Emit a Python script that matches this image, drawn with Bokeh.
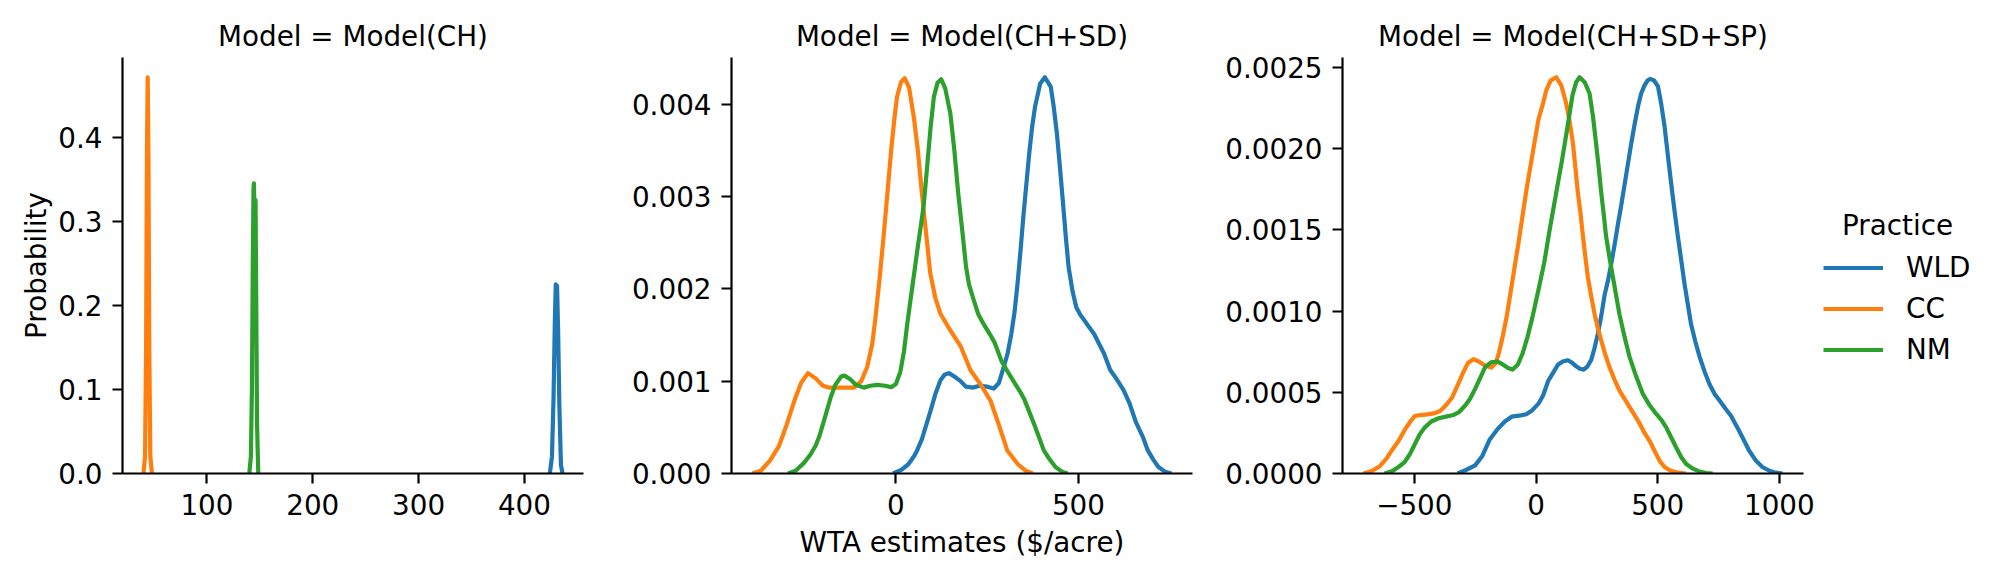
import numpy as np
from bokeh.embed import file_html
from bokeh.resources import INLINE
from bokeh.layouts import row
from bokeh.models import ColumnDataSource, FixedTicker, Legend, LegendItem, Label, Range1d
from bokeh.plotting import figure

practices = ["WLD", "CC", "NM"]
colors = ["#1f77b4", "#ff7f0e", "#2ca02c"]
models = ["Model(CH)", "Model(CH+SD)", "Model(CH+SD+SP)"]

# Model(CH): very narrow density spikes
ch_wld_x = [424, 426, 427.5, 428.7, 429.6, 430.2, 430.8, 431.8, 433, 434.5, 436]
ch_wld_y = [0, 0.02, 0.09, 0.18, 0.225, 0.215, 0.223, 0.17, 0.08, 0.01, 0]
ch_cc_x = [40, 41.5, 42.5, 43.3, 44, 44.7, 45.5, 46.5, 48]
ch_cc_y = [0, 0.02, 0.15, 0.38, 0.471, 0.38, 0.15, 0.02, 0]
ch_nm_x = [140, 141.5, 142.5, 143.3, 144.0, 144.4, 144.9, 145.4, 145.9, 146.5, 147.3, 148.5]
ch_nm_y = [0, 0.02, 0.10, 0.25, 0.34, 0.345, 0.31, 0.31, 0.325, 0.22, 0.06, 0]

# Model(CH+SD): densities read in units of 1e-3
sd_wld_x = [-8, 15, 34, 50, 58, 71, 85, 95, 108, 122, 133, 145, 160, 177, 192, 210, 230, 250,
            268, 282, 295, 306, 316, 325, 333, 341, 349, 357, 365, 373, 381, 395, 408, 424, 432,
            441, 449, 457, 465, 473, 484, 494, 505, 516, 530, 543, 557, 570, 587, 605, 624, 640,
            657, 676, 690, 705, 719, 737, 755]
sd_wld_y = [0.0, 0.04, 0.10, 0.19, 0.25, 0.37, 0.55, 0.68, 0.86, 1.01, 1.07, 1.087, 1.05, 1.00,
            0.94, 0.93, 0.95, 0.94, 0.92, 0.98, 1.15, 1.30, 1.51, 1.75, 2.05, 2.40, 2.78, 3.12,
            3.46, 3.75, 3.97, 4.22, 4.29, 4.19, 3.98, 3.68, 3.33, 2.96, 2.58, 2.235, 1.97, 1.80,
            1.72, 1.66, 1.58, 1.51, 1.40, 1.30, 1.12, 1.02, 0.90, 0.76, 0.56, 0.40, 0.25, 0.15,
            0.07, 0.02, 0.0]
sd_cc_x = [-393, -370, -345, -320, -300, -278, -260, -241, -220, -200, -184, -150, -115, -95,
           -79, -65, -56, -45, -33, -23, -13, -4, 3, 14, 24, 36, 49, 60, 72, 84, 94, 108, 122,
           149, 177, 204, 231, 259, 280, 305, 334, 355, 375]
sd_cc_y = [0.0, 0.03, 0.14, 0.30, 0.52, 0.79, 0.98, 1.087, 1.03, 0.95, 0.93, 0.93, 0.93, 1.00,
           1.15, 1.40, 1.69, 2.10, 2.60, 3.05, 3.50, 3.85, 4.08, 4.24, 4.28, 4.18, 3.86, 3.50,
           3.00, 2.55, 2.17, 1.90, 1.73, 1.55, 1.38, 1.12, 0.97, 0.79, 0.55, 0.25, 0.10, 0.03, 0.0]
sd_nm_x = [-296, -275, -253, -235, -220, -210, -195, -179, -166, -150, -141, -125, -110, -88,
           -70, -50, -30, -13, 0, 12, 22, 31, 40, 49, 58, 67, 76, 85, 95, 104, 114, 124, 135,
           149, 160, 171, 182, 192, 200, 209, 225, 240, 257, 270, 289, 305, 322, 341, 352, 368,
           380, 395, 405, 420, 437, 455, 470]
sd_nm_y = [0.0, 0.03, 0.11, 0.20, 0.30, 0.40, 0.60, 0.82, 0.96, 1.05, 1.06, 1.02, 0.96, 0.93,
           0.95, 0.96, 0.95, 0.935, 0.97, 1.10, 1.32, 1.62, 1.88, 2.14, 2.40, 2.65, 2.90, 3.30,
           3.75, 4.08, 4.23, 4.27, 4.17, 3.90, 3.50, 3.02, 2.62, 2.24, 2.05, 1.93, 1.73, 1.62,
           1.51, 1.42, 1.22, 1.11, 1.00, 0.88, 0.80, 0.64, 0.52, 0.36, 0.25, 0.16, 0.07, 0.02, 0.0]

# Model(CH+SD+SP): densities read in units of 1e-3
sp_wld_x = [-322, -290, -250, -220, -190, -160, -128, -100, -70, -40, -15, 10, 29, 50, 70, 90,
            110, 131, 150, 165, 180, 196, 212, 227, 240, 254, 268, 282, 296, 309, 323, 336, 350,
            364, 377, 391, 405, 419, 432, 446, 458, 469, 485, 501, 514, 528, 541, 555, 569, 583,
            597, 610, 624, 637, 655, 672, 692, 713, 734, 754, 778, 801, 825, 849, 876, 904, 930,
            959, 985, 1013]
sp_wld_y = [0.0, 0.02, 0.05, 0.11, 0.21, 0.27, 0.32, 0.35, 0.356, 0.365, 0.39, 0.43, 0.48, 0.57,
            0.62, 0.67, 0.69, 0.698, 0.68, 0.66, 0.645, 0.64, 0.66, 0.70, 0.77, 0.86, 0.97, 1.10,
            1.19, 1.29, 1.41, 1.53, 1.65, 1.78, 1.90, 2.03, 2.15, 2.26, 2.34, 2.39, 2.42, 2.43,
            2.42, 2.385, 2.28, 2.14, 1.97, 1.79, 1.62, 1.46, 1.31, 1.17, 1.04, 0.92, 0.81, 0.72,
            0.63, 0.55, 0.49, 0.45, 0.40, 0.356, 0.29, 0.22, 0.14, 0.078, 0.04, 0.017, 0.005, 0.0]
sp_cc_x = [-709, -675, -642, -615, -590, -565, -539, -516, -498, -475, -447, -420, -394, -370,
           -344, -320, -300, -280, -257, -235, -210, -184, -165, -152, -136, -120, -104, -87,
           -71, -55, -39, -22, -6, 10, 29, 42, 60, 83, 104, 124, 138, 152, 162, 172, 183, 193,
           203, 213, 227, 241, 255, 268, 285, 302, 322, 343, 364, 384, 405, 425, 446, 467, 487,
           508, 528, 549, 583, 617]
sp_cc_y = [0.0, 0.015, 0.045, 0.09, 0.148, 0.20, 0.27, 0.32, 0.354, 0.36, 0.364, 0.37, 0.385,
           0.42, 0.47, 0.55, 0.62, 0.68, 0.704, 0.69, 0.665, 0.652, 0.68, 0.745, 0.85, 0.97,
           1.12, 1.28, 1.43, 1.59, 1.75, 1.90, 2.04, 2.18, 2.28, 2.36, 2.42, 2.44, 2.39, 2.28,
           2.17, 2.03, 1.88, 1.73, 1.60, 1.46, 1.33, 1.21, 1.09, 0.98, 0.89, 0.82, 0.73, 0.655,
           0.58, 0.51, 0.46, 0.41, 0.36, 0.31, 0.25, 0.20, 0.14, 0.078, 0.04, 0.02, 0.005, 0.0]
sp_nm_x = [-622, -590, -565, -540, -518, -498, -478, -457, -430, -400, -370, -340, -315, -290,
           -271, -257, -232, -209, -185, -160, -135, -115, -96, -75, -55, -35, -15, 10, 34, 56,
           82, 107, 131, 150, 165, 179, 200, 220, 234, 247, 258, 268, 278, 288, 302, 316, 330,
           343, 364, 384, 411, 439, 467, 494, 515, 535, 556, 576, 597, 617, 645, 672, 700, 726]
sp_nm_y = [0.0, 0.015, 0.04, 0.07, 0.12, 0.18, 0.24, 0.284, 0.32, 0.34, 0.35, 0.36, 0.38, 0.42,
           0.46, 0.50, 0.58, 0.655, 0.685, 0.69, 0.67, 0.65, 0.64, 0.67, 0.74, 0.84, 0.96, 1.13,
           1.30, 1.50, 1.72, 1.93, 2.15, 2.33, 2.41, 2.44, 2.41, 2.34, 2.20, 2.03, 1.88, 1.73,
           1.60, 1.46, 1.33, 1.21, 1.09, 0.98, 0.84, 0.72, 0.60, 0.49, 0.42, 0.367, 0.33, 0.284,
           0.22, 0.16, 0.10, 0.058, 0.03, 0.012, 0.003, 0.0]

# tick values and labels per panel
ch_xticks, ch_xlabels = [100, 200, 300, 400], ["100", "200", "300", "400"]
ch_yticks, ch_ylabels = [0, 0.1, 0.2, 0.3, 0.4], ["0.0", "0.1", "0.2", "0.3", "0.4"]
sd_xticks, sd_xlabels = [0, 500], ["0", "500"]
sd_yticks = [0, 0.001, 0.002, 0.003, 0.004]
sd_ylabels = ["0.000", "0.001", "0.002", "0.003", "0.004"]
sp_xticks, sp_xlabels = [-500, 0, 500, 1000], ["\u2212500", "0", "500", "1000"]
sp_yticks = [0, 0.0005, 0.001, 0.0015, 0.002, 0.0025]
sp_ylabels = ["0.0000", "0.0005", "0.0010", "0.0015", "0.0020", "0.0025"]

FONT = "DejaVu Sans"
FSIZE = "27.8px"
TOP, BOTTOM = 57, 91


def make_panel(title, curves, xticks, xlabels, yticks, ylabels, border_left, border_right):
    xs = np.concatenate([c[0] for c in curves])
    ys = np.concatenate([c[1] for c in curves])
    span = xs.max() - xs.min()
    p = figure(
        frame_width=461, frame_height=416,
        min_border_left=border_left, min_border_right=border_right,
        min_border_top=TOP, min_border_bottom=BOTTOM,
        x_range=Range1d(xs.min() - 0.05 * span, xs.max() + 0.05 * span),
        y_range=Range1d(0, ys.max() * 1.05),
        tools="", toolbar_location=None, output_backend="svg",
    )
    p.title.text = title
    p.title.align = "center"
    p.title.text_font = FONT
    p.title.text_font_size = FSIZE
    p.title.text_font_style = "normal"
    p.title.text_color = "black"
    p.title.standoff = 9.5

    renderers = []
    for (x, y), color in zip(curves, colors):
        src = ColumnDataSource(dict(x=x, y=y))
        r = p.line("x", "y", source=src, line_color=color, line_width=4.2, line_join="round")
        renderers.append(r)

    p.xaxis.ticker = FixedTicker(ticks=xticks)
    p.xaxis.major_label_overrides = dict(zip(xticks, xlabels))
    p.yaxis.ticker = FixedTicker(ticks=yticks)
    p.yaxis.major_label_overrides = dict(zip(yticks, ylabels))
    for ax in (p.xaxis[0], p.yaxis[0]):
        ax.axis_line_width = 2.2
        ax.axis_line_color = "black"
        ax.major_tick_line_width = 2.2
        ax.major_tick_line_color = "black"
        ax.major_tick_out = 10
        ax.major_tick_in = 0
        ax.minor_tick_line_color = None
        ax.major_label_text_font = FONT
        ax.major_label_text_font_size = FSIZE
        ax.major_label_text_color = "black"
        ax.major_label_standoff = 10
        ax.axis_label_text_font = FONT
        ax.axis_label_text_font_size = FSIZE
        ax.axis_label_text_font_style = "normal"
        ax.axis_label_text_color = "black"
    p.xgrid.grid_line_color = None
    p.ygrid.grid_line_color = None
    p.outline_line_color = None
    return p, renderers


p1, _ = make_panel("Model = " + models[0],
                   [(ch_wld_x, ch_wld_y), (ch_cc_x, ch_cc_y), (ch_nm_x, ch_nm_y)],
                   ch_xticks, ch_xlabels, ch_yticks, ch_ylabels, 122, 30)
p1.yaxis.axis_label = "Probability"
p1.yaxis.axis_label_standoff = 2

p2, _ = make_panel("Model = " + models[1],
                   [(sd_wld_x, np.array(sd_wld_y) * 1e-3),
                    (sd_cc_x, np.array(sd_cc_y) * 1e-3),
                    (sd_nm_x, np.array(sd_nm_y) * 1e-3)],
                   sd_xticks, sd_xlabels, sd_yticks, sd_ylabels, 118, 30)
p2.xaxis.axis_label = "WTA estimates ($/acre)"
p2.xaxis.axis_label_standoff = 8

p3, _ = make_panel("Model = " + models[2],
                   [(sp_wld_x, np.array(sp_wld_y) * 1e-3),
                    (sp_cc_x, np.array(sp_cc_y) * 1e-3),
                    (sp_nm_x, np.array(sp_nm_y) * 1e-3)],
                   sp_xticks, sp_xlabels, sp_yticks, sp_ylabels, 118, 20)

# legend lives in its own narrow figure to the right of the last panel,
# with a frame the same height as the panels
pl = figure(frame_width=153, frame_height=416,
            min_border_left=0, min_border_right=0,
            min_border_top=TOP, min_border_bottom=BOTTOM,
            x_range=Range1d(0, 1), y_range=Range1d(0, 1),
            x_axis_location=None, y_axis_location=None,
            tools="", toolbar_location=None, output_backend="svg")
pl.xgrid.grid_line_color = None
pl.ygrid.grid_line_color = None
pl.outline_line_color = None
key_lines = [pl.line(x=[np.nan], y=[np.nan], line_color=c, line_width=4.2) for c in colors]

legend = Legend(
    items=[LegendItem(label=name, renderers=[r]) for name, r in zip(practices, key_lines)],
    location=(0, 103),
    glyph_width=60, glyph_height=41, label_height=41, label_standoff=23,
    spacing=0, padding=0, margin=0,
    border_line_color=None, background_fill_alpha=0,
    label_text_font=FONT, label_text_font_size=FSIZE, label_text_color="black",
)
pl.add_layout(legend)
pl.add_layout(Label(x=74, y=248, x_units="screen", y_units="screen", text="Practice",
                    text_align="center", text_baseline="middle",
                    text_font=FONT, text_font_size=FSIZE, text_color="black"))

layout = row(p1, p2, p3, pl)
open("out.html", "w").write(file_html(layout, INLINE))
